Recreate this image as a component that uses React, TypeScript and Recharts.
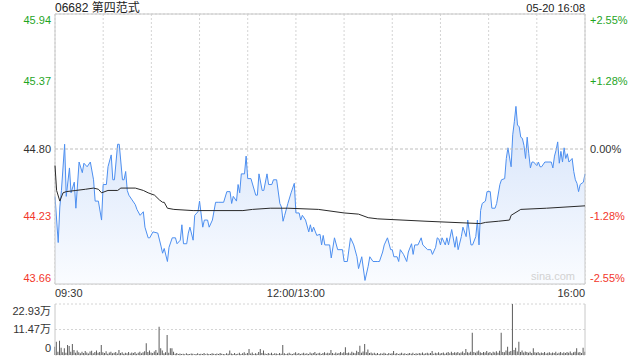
import {
  ComposedChart,
  Area,
  Line,
  XAxis,
  YAxis,
  CartesianGrid,
  ReferenceArea,
  ReferenceLine,
  BarChart,
  Bar,
} from 'recharts';

// minutes since 09:30 (lunch break removed), price
const priceTimes = [
  0, 2, 3, 4, 6, 7, 9, 10, 12, 13,
  15, 17, 18, 20, 22, 24, 25, 27, 29, 30,
  32, 33, 35, 36, 37, 39, 40, 42, 43, 44,
  45, 46, 48, 50, 51, 53, 55, 56, 58, 59,
  61, 64, 66, 67, 68, 70, 71, 73, 75, 76,
  78, 79, 80, 82, 83, 84, 86, 87, 89, 90,
  92, 93, 95, 96, 98, 100, 102, 105, 107, 109,
  110, 111, 113, 114, 115, 116, 118, 119, 120, 122,
  125, 126, 127, 129, 130, 132, 133, 135, 136, 138,
  140, 141, 142, 143, 145, 147, 149, 150, 152, 153,
  154, 156, 158, 159, 160, 161, 163, 165, 166, 167,
  168, 171, 172, 174, 176, 179, 180, 182, 184, 186,
  188, 189, 191, 193, 195, 196, 198, 201, 202, 204,
  205, 207, 209, 210, 211, 213, 214, 215, 217, 219,
  220, 222, 223, 224, 226, 228, 229, 232, 234, 235,
  237, 238, 239, 240, 241, 243, 244, 245, 247, 249,
  250, 251, 253, 254, 256, 257, 259, 260, 262, 263,
  264, 265, 266, 268, 269, 271, 272, 274, 275, 277,
  278, 280, 281, 282, 284, 285, 286, 287, 288, 289,
  290, 291, 292, 293, 294, 295, 296, 297, 298, 300,
  301, 302, 303, 305, 307, 309, 310, 311, 312, 313,
  314, 315, 316, 317, 318, 319, 320, 322, 323, 324,
  325, 326, 327, 329, 330,
];
const priceValues = [
  44.40, 44.01, 44.31, 44.45, 44.84, 44.40, 44.64, 44.43, 44.52, 44.30,
  44.69, 44.60, 44.68, 44.65, 44.69, 44.54, 44.36, 44.36, 44.20, 44.50,
  44.50, 44.65, 44.75, 44.54, 44.54, 44.84, 44.84, 44.54, 44.54, 44.61,
  44.45, 44.41, 44.37, 44.33, 44.29, 44.24, 44.27, 44.14, 44.05, 44.05,
  44.10, 44.09, 43.98, 43.92, 43.96, 43.85, 43.97, 44.05, 44.05, 44.00,
  44.03, 44.16, 44.00, 44.00, 44.09, 44.14, 44.03, 44.24, 44.27, 44.36,
  44.14, 44.20, 44.20, 44.14, 44.20, 44.35, 44.35, 44.35, 44.44, 44.44,
  44.34, 44.40, 44.36, 44.50, 44.43, 44.59, 44.59, 44.74, 44.55, 44.55,
  44.41, 44.41, 44.59, 44.45, 44.45, 44.59, 44.50, 44.50, 44.54, 44.54,
  44.34, 44.31, 44.19, 44.24, 44.34, 44.43, 44.51, 44.26, 44.26, 44.20,
  44.24, 44.20, 44.10, 44.16, 44.10, 44.14, 44.07, 44.08, 43.99, 44.07,
  43.99, 43.99, 43.88, 44.05, 43.95, 43.95, 43.85, 43.85, 44.05, 43.99,
  43.89, 43.79, 43.89, 43.69, 43.81, 43.89, 43.85, 43.85, 43.85, 43.93,
  43.99, 44.05, 43.95, 43.95, 43.89, 43.89, 43.85, 43.95, 43.91, 43.85,
  43.93, 44.00, 43.91, 43.99, 43.99, 44.05, 43.99, 43.95, 43.95, 43.91,
  43.97, 44.05, 44.04, 43.99, 44.05, 43.99, 44.05, 43.99, 44.12, 43.97,
  44.06, 43.95, 44.06, 44.14, 44.06, 44.20, 43.99, 43.99, 44.06, 44.20,
  43.99, 44.28, 44.34, 44.36, 44.44, 44.44, 44.30, 44.30, 44.34, 44.50,
  44.54, 44.55, 44.72, 44.81, 44.65, 44.92, 45.03, 45.16, 45.00, 44.99,
  44.90, 44.89, 44.83, 44.72, 44.90, 44.76, 44.64, 44.69, 44.69, 44.66,
  44.69, 44.65, 44.65, 44.69, 44.69, 44.69, 44.64, 44.74, 44.79, 44.86,
  44.68, 44.78, 44.69, 44.81, 44.72, 44.76, 44.69, 44.72, 44.61, 44.54,
  44.51, 44.44, 44.50, 44.52, 44.59,
];

const avgTimes = [
  0, 1, 3, 5, 7, 13, 19, 24, 27, 29,
  33, 39, 41, 50, 55, 58, 62, 65, 67, 68,
  70, 74, 86, 117, 123, 134, 145, 164, 180, 189,
  195, 201, 231, 265, 268, 276, 283, 284, 290, 306,
  330,
];
const avgValues = [
  44.66, 44.45, 44.36, 44.43, 44.44, 44.45, 44.46, 44.47, 44.46, 44.43,
  44.45, 44.45, 44.47, 44.47, 44.45, 44.43, 44.41, 44.37, 44.35, 44.35,
  44.30, 44.29, 44.28, 44.28, 44.29, 44.30, 44.30, 44.29, 44.26, 44.25,
  44.22, 44.21, 44.19, 44.17, 44.18, 44.19, 44.20, 44.24, 44.29, 44.30,
  44.32,
];

// volume per minute, 万股
const volumes = [
  3.7, 6.0, 1.5, 6.4, 3.3, 1.2, 3.0, 1.0, 4.5, 4.1,
  1.5, 5.0, 2.2, 1.0, 2.0, 1.2, 0.8, 1.5, 0.9, 1.8,
  1.1, 0.7, 1.6, 1.9, 0.8, 1.3, 2.0, 1.0, 1.4, 4.5,
  1.2, 0.9, 1.7, 0.6, 1.1, 1.5, 0.8, 1.0, 1.3, 0.7,
  2.3, 0.9, 1.2, 0.6, 1.0, 0.8, 1.4, 0.7, 1.1, 0.9,
  1.3, 0.6, 1.0, 1.5, 0.8, 1.2, 1.7, 5.3, 1.4, 2.0,
  1.1, 0.9, 1.6, 2.2, 1.0, 12.7, 3.0, 2.0, 0.8, 1.2,
  9.0, 1.0, 3.0, 3.0, 1.5, 0.6, 0.9, 0.4, 0.7, 0.5,
  0.6, 0.3, 0.8, 0.5, 0.4, 0.7, 0.6, 0.3, 0.5, 0.8,
  0.4, 0.6, 0.5, 0.9, 0.3, 0.7, 0.5, 0.4, 0.8, 0.6,
  0.5, 0.7, 0.4, 0.9, 0.6, 0.5, 0.3, 0.8, 0.6, 2.0,
  0.7, 0.5, 0.9, 0.4, 0.6, 1.0, 0.5, 0.8, 1.2, 0.6,
  0.9, 2.7, 0.7, 1.1, 0.5, 0.8, 0.6, 1.3, 2.7, 0.9,
  2.0, 0.7, 0.5, 0.9, 0.6, 1.0, 0.4, 0.8, 0.7, 0.5,
  0.9, 0.6, 4.5, 0.8, 0.5, 0.7, 1.0, 0.6, 0.4, 0.8,
  1.2, 0.6, 0.9, 0.5, 0.7, 1.0, 0.6, 0.8, 0.5, 1.1,
  0.7, 0.9, 1.3, 0.6, 0.8, 1.0, 0.5, 0.9, 1.2, 0.7,
  1.0, 0.8, 2.3, 0.9, 0.6, 1.1, 0.7, 0.9, 1.4, 0.8,
  1.2, 3.5, 0.9, 1.1, 0.7, 1.5, 1.0, 0.8, 1.9, 1.3,
  4.2, 1.0, 1.6, 5.0, 1.2, 2.5, 0.9, 1.1, 0.7, 1.0,
  0.6, 0.9, 0.5, 0.8, 0.6, 1.0, 0.7, 0.5, 0.9, 0.6,
  0.8, 1.8, 0.6, 0.9, 0.5, 0.7, 1.0, 0.6, 0.8, 0.5,
  0.7, 0.9, 0.6, 1.0, 0.5, 0.8, 0.6, 0.9, 0.7, 1.1,
  0.6, 0.8, 1.0, 0.7, 0.9, 1.8, 0.6, 1.0, 0.8, 1.2,
  0.7, 0.9, 1.1, 0.6, 1.0, 1.3, 0.8, 1.5, 0.9, 1.2,
  1.0, 1.4, 0.8, 1.1, 1.6, 0.9, 2.7, 1.2, 1.0, 1.5,
  10.0, 1.3, 1.0, 1.6, 2.0, 1.2, 0.9, 1.4, 1.1, 1.8,
  1.0, 1.3, 0.8, 1.5, 1.1, 1.7, 1.0, 1.9, 10.0, 1.4,
  1.2, 2.0, 3.7, 1.5, 1.8, 22.93, 2.2, 3.3, 1.6, 6.0,
  1.4, 2.0, 1.1, 1.6, 1.3, 1.0, 1.5, 0.9, 3.0, 1.2,
  1.0, 1.4, 0.8, 1.1, 0.9, 1.3, 0.7, 1.0, 1.2, 0.8,
  1.1, 0.9, 1.5, 0.7, 1.0, 1.3, 0.8, 1.2, 0.9, 1.4,
  1.0, 1.6, 0.8, 1.2, 1.5, 3.0, 1.1, 1.4, 0.9, 3.3,
  1.5,
];

const priceTicks = [43.66, 44.23, 44.8, 45.37, 45.94];
const pctLabels = ['-2.55%', '-1.28%', '0.00%', '+1.28%', '+2.55%'];
const timeTicks = [0, 30, 60, 90, 120, 150, 180, 210, 240, 270, 300, 330];
const timeLabels: Record<number, string> = { 0: '09:30', 150: '12:00/13:00', 330: '16:00' };
const volTicks = [0, 11.47, 22.93];
const volLabels = ['0', '11.47万', '22.93万'];

const priceData = priceTimes.map((m, i) => ({ m, p: priceValues[i] }));
const avgData = avgTimes.map((m, i) => ({ m, a: avgValues[i] }));
const volData = volumes.map((v, m) => ({ m, v }));

const FONT = 'Arial, "Liberation Sans", "Noto Sans CJK SC", sans-serif';
const GREEN = '#1fa51f';
const RED = '#f2372b';
const GRID = '#d4d4d4';
const BORDER = '#c8c8c8';

const tickColor = (i: number) => (i > 2 ? GREEN : i < 2 ? RED : '#333');

const PriceTick = (props: any) => {
  const { x, y, payload } = props;
  const i = priceTicks.indexOf(payload.value);
  const shift = i === priceTicks.length - 1 ? 6 : i === 0 ? -6 : 0;
  return (
    <text x={x} y={y + shift} dy="0.36em" textAnchor="end" fontSize={11} fill={tickColor(i)} fontFamily={FONT}>
      {payload.value.toFixed(2)}
    </text>
  );
};

const PctTick = (props: any) => {
  const { x, y, payload } = props;
  const i = priceTicks.indexOf(payload.value);
  const shift = i === priceTicks.length - 1 ? 6 : i === 0 ? -6 : 0;
  return (
    <text x={x} y={y + shift} dy="0.36em" textAnchor="start" fontSize={11} fill={tickColor(i)} fontFamily={FONT}>
      {pctLabels[i]}
    </text>
  );
};

const TimeTick = (props: any) => {
  const { x, y, payload } = props;
  const label = timeLabels[payload.value];
  if (!label) return <g />;
  const anchor = payload.value === 0 ? 'start' : payload.value === 330 ? 'end' : 'middle';
  return (
    <text x={x} y={y} dy={13} textAnchor={anchor} fontSize={11} fill="#333" fontFamily={FONT}>
      {label}
    </text>
  );
};

const VolTick = (props: any) => {
  const { x, y, payload } = props;
  const i = volTicks.indexOf(payload.value);
  const shift = i === volTicks.length - 1 ? 7 : i === 0 ? -7 : 0;
  return (
    <text x={x} y={y + shift} dy="0.36em" textAnchor="end" fontSize={11} fill="#333" fontFamily={FONT}>
      {volLabels[i]}
    </text>
  );
};

export default function App() {
  return (
    <div style={{ position: 'absolute', left: 0, top: 0, width: 640, height: 360, background: '#fff', fontFamily: FONT }}>
      <div style={{ position: 'absolute', left: 55, top: 1, fontSize: 12, color: '#222', lineHeight: '14px' }}>
        06682 第四范式
      </div>
      <div style={{ position: 'absolute', right: 55, top: 1, fontSize: 11, color: '#222', lineHeight: '14px' }}>
        05-20 16:08
      </div>

      <div style={{ position: 'absolute', left: 0, top: 0 }}>
        <ComposedChart width={640} height={300} margin={{ top: 14, right: 0, bottom: 0, left: 0 }}>
          <defs>
            <linearGradient id="priceFill" x1="0" y1="0" x2="0" y2="1">
              <stop offset="0%" stopColor="#d5e3fa" />
              <stop offset="100%" stopColor="#fafcff" />
            </linearGradient>
          </defs>
          <CartesianGrid stroke={GRID} strokeDasharray="2 2" />
          <XAxis
            dataKey="m"
            type="number"
            domain={[0, 330]}
            ticks={timeTicks}
            interval={0}
            height={16}
            tickSize={0}
            tickMargin={0}
            axisLine={false}
            tickLine={false}
            tick={<TimeTick />}
          />
          <YAxis
            yAxisId="p"
            domain={[43.66, 45.94]}
            ticks={priceTicks}
            interval={0}
            allowDataOverflow
            width={55}
            tickSize={0}
            tickMargin={4}
            axisLine={false}
            tickLine={false}
            tick={<PriceTick />}
          />
          <YAxis
            yAxisId="pct"
            orientation="right"
            domain={[43.66, 45.94]}
            ticks={priceTicks}
            interval={0}
            allowDataOverflow
            width={55}
            tickSize={0}
            tickMargin={5}
            axisLine={false}
            tickLine={false}
            tick={<PctTick />}
          />
          <ReferenceLine yAxisId="p" y={44.8} stroke="#bdbdbd" strokeDasharray="3 2" />
          <Area
            yAxisId="p"
            data={priceData}
            dataKey="p"
            type="linear"
            baseValue="dataMin"
            stroke="#4d8ff0"
            strokeWidth={1}
            fill="url(#priceFill)"
            fillOpacity={1}
            dot={false}
            activeDot={false}
            isAnimationActive={false}
          />
          <Line
            yAxisId="pct"
            data={avgData}
            dataKey="a"
            type="linear"
            stroke="#2a2a2a"
            strokeWidth={1}
            dot={false}
            activeDot={false}
            isAnimationActive={false}
          />
          <ReferenceArea yAxisId="p" x1={0} x2={330} y1={43.66} y2={45.94} fill="none" stroke={BORDER} />
        </ComposedChart>
      </div>

      <div style={{ position: 'absolute', left: 531, top: 270, fontSize: 11, color: '#d2d2d2' }}>sina.com</div>

      <div style={{ position: 'absolute', left: 0, top: 298 }}>
        <BarChart width={640} height={62} data={volData} margin={{ top: 6, right: 0, bottom: 5, left: 0 }}>
          <CartesianGrid stroke={GRID} strokeDasharray="2 2" vertical={false} />
          <XAxis dataKey="m" type="number" domain={[0, 330]} hide />
          <YAxis
            domain={[0, 22.93]}
            ticks={volTicks}
            interval={0}
            allowDataOverflow
            width={55}
            tickSize={0}
            tickMargin={4}
            axisLine={{ stroke: BORDER }}
            tickLine={false}
            tick={<VolTick />}
          />
          <YAxis
            yAxisId="r"
            orientation="right"
            width={55}
            tick={false}
            tickLine={false}
            axisLine={{ stroke: BORDER }}
          />
          <Bar dataKey="v" fill="#5c5c5c" barSize={1} isAnimationActive={false} />
        </BarChart>
      </div>
    </div>
  );
}
